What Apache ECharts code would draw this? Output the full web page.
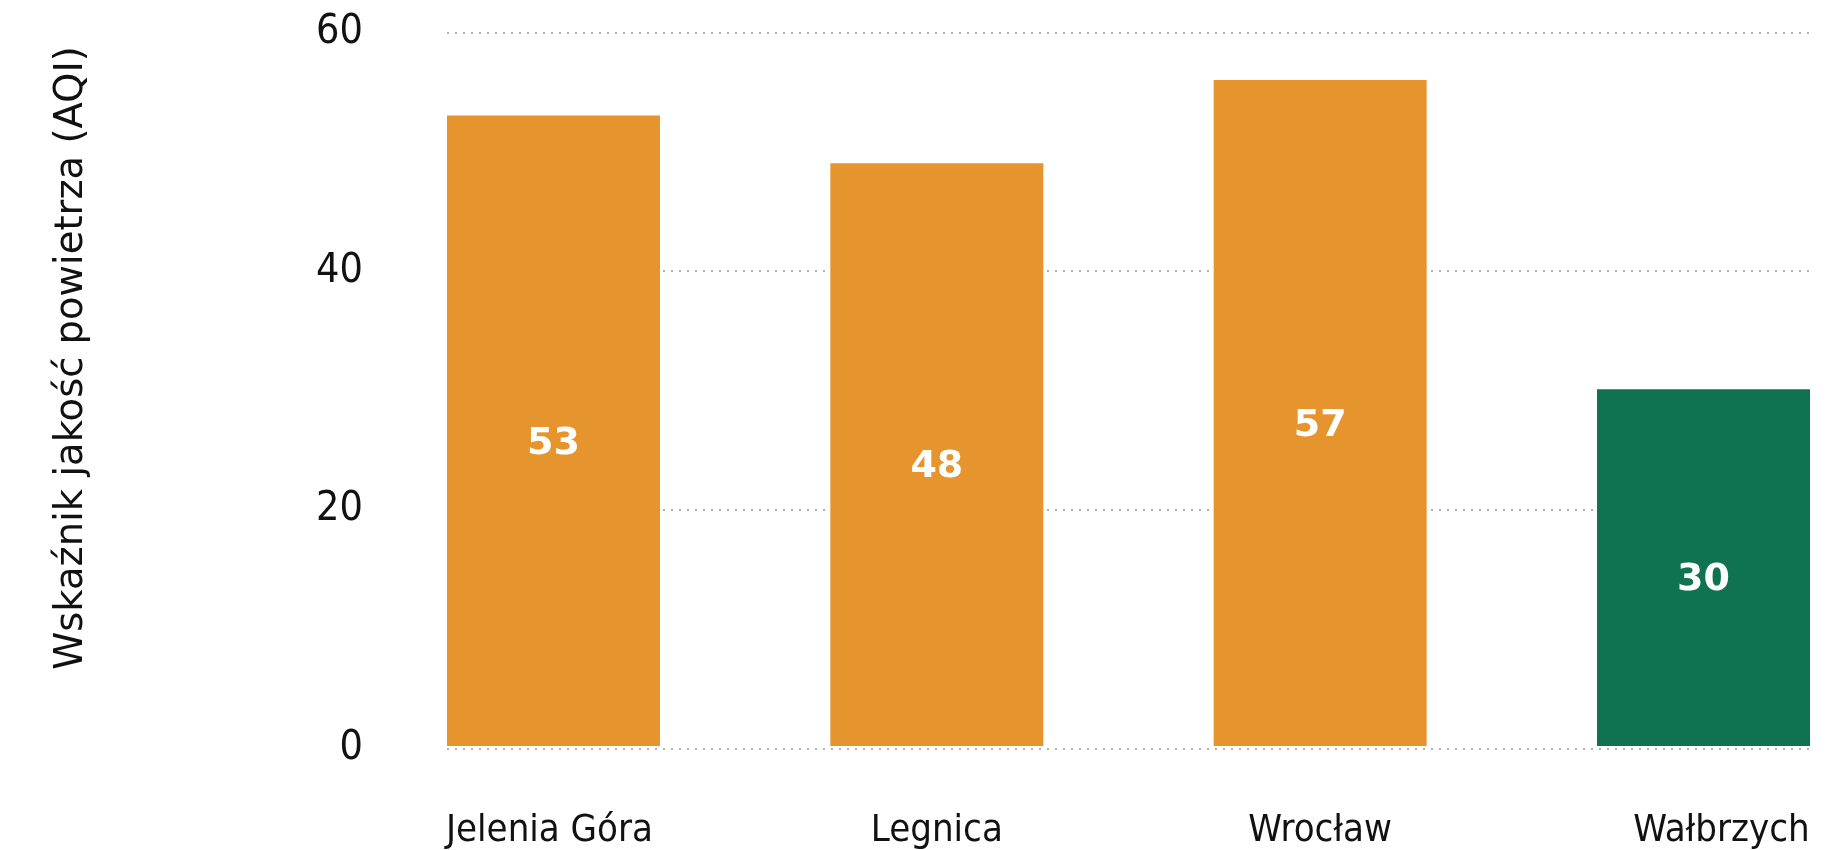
<!DOCTYPE html>
<html>
<head>
<meta charset="utf-8">
<script src="https://cdn.jsdelivr.net/npm/echarts@6/dist/echarts.min.js"></script>
<style>
  html, body { margin: 0; padding: 0; background: #ffffff; }
  #chart { width: 1830px; height: 850px; }
</style>
</head>
<body>
<div id="chart"></div>
<script>
// ---- data ----
const categories = ['Jelenia Góra', 'Legnica', 'Wrocław', 'Wałbrzych'];
const barValues = [53, 49, 56, 30];
const barLabels = ['53', '48', '57', '30'];
const highlightCategory = 'Wałbrzych';
const yTicks = [0, 20, 40, 60];
const yAxisTitle = 'Wskaźnik jakość powietrza (AQI)';

// ---- styles ----
const ORANGE = '#E6952E';
const GREEN = '#0F7352';
const condensed = "'DejaVu Sans Condensed', 'Liberation Sans Narrow', 'DejaVu Sans', sans-serif";
const regular = "'DejaVu Sans', sans-serif";

const chart = echarts.init(document.getElementById('chart'), null, { renderer: 'canvas' });

const gridTop = 32.3, gridBottom = 850 - 748.3;
const labelPads = { 'Jelenia Góra': [0, 8, 0, 0], 'Wałbrzych': [0, 0, 0, 36] };

const option = {
  animation: false,
  backgroundColor: '#ffffff',
  grid: [
    { left: 447, right: 20, top: gridTop, bottom: gridBottom },
    { left: 553.5, right: 1830 - 1703.5, top: gridTop, bottom: gridBottom }
  ],
  xAxis: [
    { gridIndex: 0, type: 'value', min: 0, max: 1, show: false },
    {
      gridIndex: 1, type: 'category', boundaryGap: false,
      data: categories.map(c => labelPads[c] ? { value: c, textStyle: { padding: labelPads[c] } } : c),
      axisLine: { show: false }, axisTick: { show: false },
      axisLabel: { margin: 66, fontFamily: condensed, fontSize: 38, color: '#111111' }
    }
  ],
  yAxis: [
    {
      gridIndex: 0, type: 'value', min: yTicks[0], max: yTicks[yTicks.length - 1], interval: 20,
      axisLine: { show: false }, axisTick: { show: false },
      axisLabel: { margin: 84, fontFamily: condensed, fontSize: 41, color: '#111111' },
      splitLine: { show: true, lineStyle: { color: '#b0b0b0', width: 2, type: [2, 6] } }
    },
    { gridIndex: 1, type: 'value', min: yTicks[0], max: yTicks[yTicks.length - 1], show: false }
  ],
  graphic: [{
    type: 'text',
    x: 72, y: 358,
    rotation: Math.PI / 2,
    style: {
      text: yAxisTitle,
      fontFamily: regular, fontSize: 38.5, fill: '#111111',
      textAlign: 'center', textVerticalAlign: 'middle'
    }
  }],
  series: [{
    type: 'bar',
    xAxisIndex: 1, yAxisIndex: 1,
    data: barValues,
    barWidth: 213,
    itemStyle: {
      color: p => (p.name === highlightCategory ? GREEN : ORANGE)
    },
    label: {
      show: true, position: 'inside', offset: [0, 13],
      formatter: p => barLabels[p.dataIndex],
      color: '#ffffff', fontFamily: regular, fontWeight: 'bold', fontSize: 38
    }
  }]
};
chart.setOption(option);
</script>
</body>
</html>
